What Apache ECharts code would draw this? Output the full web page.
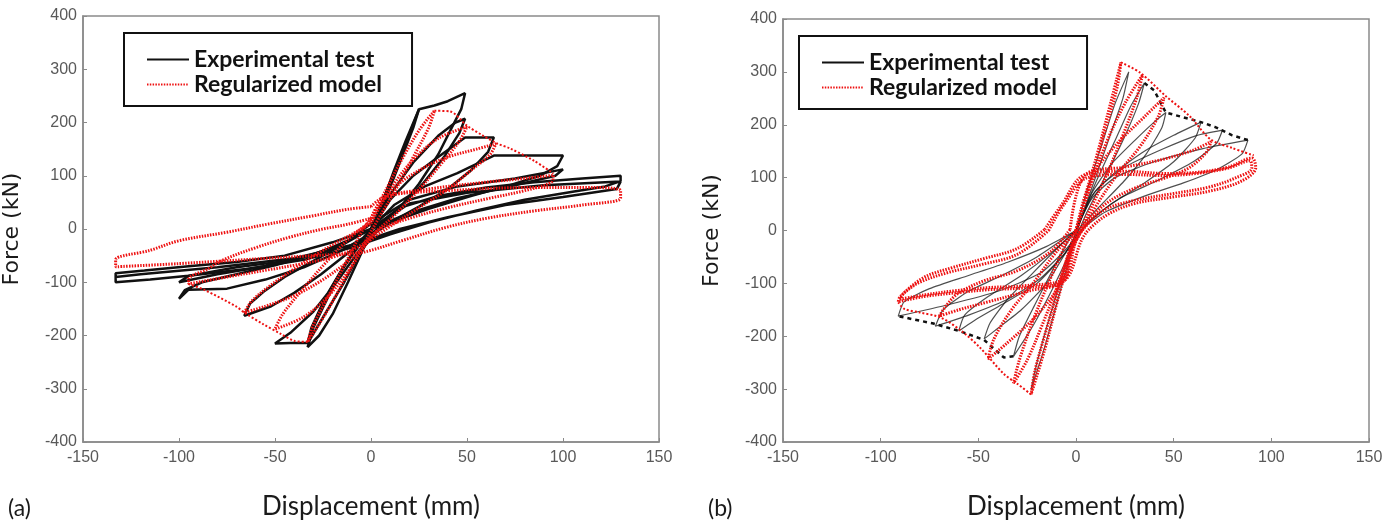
<!DOCTYPE html>
<html>
<head>
<meta charset="utf-8">
<script src="https://cdn.jsdelivr.net/npm/echarts@6/dist/echarts.min.js"></script>
<style>
    html, body { margin: 0; padding: 0; background: #fff; }
    #chart { width: 1396px; height: 525px; }
</style>
</head>
<body>
<div id="chart"></div>
<script>
// axis ranges (same for both panels)
const xRange = [-150, 150, 50]
const yRange = [-400, 400, 100]

// ---- panel (a): experimental loops, [displacement mm, force kN]
const expA_25 = [[0,0],[6,50],[12,110],[18,165],[25,225],[22,190],[15,125],[8,60],[2,10],[-5,-45],[-12,-100],[-20,-160],[-27,-200],[-33,-222],[-30,-185],[-22,-125],[-14,-70],[-6,-25],[0,0]]
const expA_49 = [[0,0],[8,70],[16,140],[25,225],[33,232],[40,240],[49,255],[47,225],[42,190],[35,140],[25,85],[14,35],[4,0],[-5,-40],[-14,-100],[-24,-160],[-33,-215],[-30,-180],[-23,-125],[-14,-70],[-6,-25],[0,0]]
const expA_50 = [[0,0],[10,65],[22,125],[35,175],[44,200],[49,207],[46,180],[38,135],[27,85],[15,40],[4,5],[-6,-40],[-18,-100],[-30,-155],[-42,-195],[-50,-215],[-42,-214],[-33,-214],[-31,-185],[-24,-130],[-15,-75],[-6,-30],[0,0]]
const expA_65 = [[0,0],[10,55],[22,100],[35,135],[49,172],[64,172],[61,145],[52,110],[40,75],[25,42],[10,12],[0,-12],[-12,-45],[-26,-85],[-40,-120],[-52,-145],[-66,-163],[-63,-140],[-56,-118],[-45,-90],[-30,-60],[-15,-30],[0,0]]
const expA_100 = [[0,0],[12,45],[28,80],[45,105],[64,138],[100,138],[97,118],[88,100],[72,82],[52,62],[30,38],[12,15],[0,-8],[-15,-40],[-35,-72],[-55,-95],[-75,-112],[-95,-114],[-100,-131],[-97,-115],[-88,-100],[-70,-85],[-50,-68],[-30,-48],[-12,-22],[0,0]]
const expA_130 = [[0,0],[15,40],[35,62],[60,78],[85,88],[110,95],[130,100],[130,90],[122,80],[105,70],[80,55],[55,35],[30,12],[10,-10],[-10,-35],[-35,-58],[-65,-75],[-95,-88],[-115,-95],[-133,-100],[-133,-83],[-118,-78],[-95,-70],[-70,-62],[-45,-50],[-20,-25],[0,0],[20,48],[50,68],[90,82],[130,89],[128,75],[100,60],[70,45],[40,22],[15,0],[-10,-30],[-40,-55],[-80,-72],[-120,-85],[-133,-90]]
const expA_mid = [[0,10],[20,55],[45,80],[75,95],[100,112],[96,100],[70,78],[45,58],[20,30],[0,0],[-25,-45],[-55,-70],[-80,-85],[-100,-100],[-95,-88],[-70,-72],[-40,-58],[-15,-30],[0,10]]

// ---- panel (a): regularized model loops
const modelA_33 = [[0,20],[8,75],[16,130],[25,185],[33,222],[30,190],[22,135],[13,75],[4,20],[-4,-30],[-13,-90],[-23,-155],[-33,-212],[-30,-180],[-22,-125],[-12,-55],[-4,0],[0,20]]
const modelA_50 = [[0,15],[10,75],[22,130],[35,170],[50,192],[46,165],[36,120],[24,70],[12,25],[0,-15],[-10,-70],[-22,-125],[-35,-165],[-50,-188],[-46,-160],[-36,-115],[-24,-65],[-12,-20],[0,15]]
const modelA_65 = [[0,10],[10,70],[25,110],[40,135],[55,150],[65,160],[62,140],[52,110],[40,75],[25,40],[10,5],[0,-20],[-10,-55],[-25,-95],[-40,-125],[-55,-145],[-66,-157],[-62,-135],[-52,-105],[-40,-75],[-25,-40],[-10,-10],[0,10]]
const modelA_95 = [[0,20],[7,58],[30,75],[60,88],[80,95],[95,101],[94,88],[80,72],[62,58],[40,40],[20,20],[5,0],[-5,-30],[-19,-52],[-40,-68],[-54,-77],[-75,-90],[-95,-103],[-95,-95],[-85,-75],[-77,-58],[-60,-35],[-42,-15],[-25,0],[-12,9],[0,20]]
const modelA_130 = [[0,42],[8,62],[40,72],[85,78],[115,78],[130,72],[130,58],[110,45],[85,34],[60,20],[39,3],[16,-22],[0,-40],[-7,-45],[-30,-50],[-54,-55],[-100,-65],[-133,-71],[-133,-58],[-115,-40],[-100,-22],[-75,-6],[-54,9],[-30,25],[-12,37],[0,42]]
const modelA_envPos = [[33,222],[41,221],[50,194],[58,176],[66,160],[72,152],[85,128],[95,104]]
const modelA_envNeg = [[-33,-212],[-40,-210],[-47,-197],[-56,-179],[-66,-157],[-70,-146],[-87,-114],[-95,-103]]

// ---- panel (b): experimental loops
const expB_27 = [[0,0],[6,80],[13,160],[20,240],[27,300],[24,250],[17,175],[9,90],[2,15],[-4,-60],[-10,-140],[-16,-220],[-23,-301],[-20,-250],[-14,-170],[-7,-85],[0,0]]
const expB_35 = [[0,0],[10,90],[20,170],[28,235],[35,279],[32,240],[24,170],[14,95],[5,30],[-3,-40],[-12,-110],[-22,-180],[-32,-238],[-29,-200],[-21,-140],[-12,-75],[-4,-20],[0,0]]
const expB_46 = [[0,0],[8,70],[18,125],[30,170],[40,205],[46,223],[44,195],[36,145],[25,95],[12,45],[2,5],[-5,-40],[-15,-100],[-28,-150],[-40,-185],[-47,-205],[-44,-175],[-35,-130],[-22,-80],[-10,-35],[0,0]]
const expB_64 = [[0,0],[8,65],[20,110],[35,150],[50,180],[64,205],[61,175],[50,130],[35,90],[18,50],[5,10],[-5,-40],[-18,-90],[-35,-130],[-55,-160],[-72,-181],[-68,-150],[-55,-115],[-38,-85],[-20,-50],[-6,-15],[0,0]]
const expB_75 = [[0,0],[10,75],[25,120],[45,155],[62,180],[75,190],[72,165],[60,130],[42,95],[22,60],[6,15],[-6,-45],[-20,-100],[-38,-140],[-52,-170],[-60,-190],[-57,-160],[-45,-125],[-28,-85],[-12,-40],[0,0]]
const expB_88 = [[0,0],[8,60],[20,100],[40,130],[65,155],[88,171],[85,145],[72,115],[55,90],[35,65],[15,35],[4,5],[-5,-35],[-18,-80],[-40,-115],[-65,-140],[-91,-162],[-88,-135],[-75,-110],[-55,-85],[-35,-60],[-15,-30],[0,0]]
const expB_envPos = [[35,279],[40,265],[46,223],[58,211],[64,205],[71,196],[80,180],[88,171]]
const expB_envNeg = [[-32,-238],[-37,-240],[-47,-207],[-59,-191],[-73,-176],[-91,-162]]

// ---- panel (b): regularized model loops
const modelB_23 = [[0,0],[6,80],[12,160],[18,245],[23,318],[21,270],[15,190],[8,100],[2,20],[-4,-60],[-10,-140],[-16,-225],[-23,-310],[-21,-265],[-15,-185],[-8,-95],[-2,-20],[0,0]]
const modelB_33 = [[0,0],[8,90],[16,170],[25,240],[34,294],[31,250],[24,180],[15,100],[6,30],[-2,-30],[-10,-110],[-18,-185],[-25,-245],[-32,-289],[-29,-245],[-22,-170],[-13,-90],[-5,-25],[0,0]]
const modelB_45 = [[0,0],[8,100],[20,160],[35,215],[45,251],[42,215],[33,160],[22,110],[10,45],[0,-20],[-8,-100],[-20,-160],[-35,-212],[-45,-243],[-42,-205],[-33,-150],[-22,-100],[-10,-40],[0,0]]
const modelB_70 = [[-3,2],[5,106],[25,120],[45,135],[60,152],[69,168],[67,149],[58,119],[46,100],[30,80],[15,50],[5,10],[-3,-40],[-6,-95],[-25,-115],[-45,-135],[-60,-150],[-70,-162],[-66,-140],[-60,-118],[-47,-95],[-30,-76],[-13,-40],[-3,2]]
const modelB_90 = [[-16,2],[-8,45],[5,106],[25,112],[45,108],[62,110],[78,120],[90,137],[92,119],[85,94],[69,75],[49,63],[30,51],[17,32],[8,7],[3,-17],[-6,-95],[-25,-108],[-45,-112],[-62,-118],[-78,-125],[-91,-135],[-90,-125],[-78,-89],[-64,-71],[-47,-53],[-30,-34],[-16,2]]
const modelB_90b = [[-14,0],[-6,50],[6,100],[25,106],[45,104],[62,108],[78,118],[89,132],[90,118],[82,100],[68,82],[50,70],[30,57],[15,40],[6,12],[0,-20],[-6,-90],[-25,-104],[-45,-108],[-62,-114],[-78,-122],[-90,-130],[-88,-118],[-80,-98],[-66,-80],[-48,-64],[-30,-45],[-14,0]]
const modelB_envPos = [[23,318],[33,298],[46,254],[58,217],[69,172],[80,156],[91,142]]
const modelB_envNeg = [[-23,-310],[-30,-290],[-37,-271],[-49,-222],[-58,-192],[-69,-165],[-80,-155],[-88,-148],[-91,-136]]

const EXP = 'Experimental test'
const MODEL = 'Regularized model'
const axisGray = '#8a8a8a'
const red = '#ee1111'

const chart = echarts.init(document.getElementById('chart'))

const line = (name, data, idx, lineStyle, smooth) => ({
    type: 'line',
    name,
    data,
    xAxisIndex: idx,
    yAxisIndex: idx,
    symbol: 'none',
    smooth: smooth,
    silent: true,
    itemStyle: { color: lineStyle.color },
    lineStyle,
})

const blackA = { color: '#111', width: 2.5 }
const blackB = { color: 'rgba(20,20,20,0.75)', width: 1.2 }
const blackEnv = { color: '#111', width: 2.5, type: [4, 4] }
const redBold = { color: red, width: 3, type: [1.5, 1.3] }
const redThin = { color: red, width: 2, type: [2, 2] }

const series = [
    ...[expA_25, expA_49, expA_50, expA_65, expA_100, expA_130, expA_mid].map(d => line(EXP, d, 0, blackA, false)),
    ...[expB_27, expB_35, expB_46, expB_64, expB_75, expB_88].map(d => line(EXP, d, 1, blackB, 0.2)),
    ...[expB_envPos, expB_envNeg].map(d => line(EXP, d, 1, blackEnv, false)),
    ...[modelA_33, modelA_50, modelA_65, modelA_95, modelA_130].map(d => line(MODEL, d, 0, redBold, 0.35)),
    ...[modelA_envPos, modelA_envNeg].map(d => line(MODEL, d, 0, redThin, 0.3)),
    ...[modelB_23, modelB_33, modelB_45, modelB_70, modelB_90, modelB_90b].map(d => line(MODEL, d, 1, redBold, 0.35)),
    ...[modelB_envPos, modelB_envNeg].map(d => line(MODEL, d, 1, redThin, 0.3)),
]

const makeX = (idx) => ({
    gridIndex: idx,
    type: 'value',
    min: xRange[0],
    max: xRange[1],
    interval: xRange[2],
    name: 'Displacement (mm)',
    nameLocation: 'middle',
    nameGap: 52,
    nameTextStyle: { fontFamily: 'Lato', fontSize: 26, color: '#1a1a1a' },
    axisLine: { show: true, onZero: false, lineStyle: { color: axisGray, width: 1.5 } },
    axisTick: { show: true, inside: true, length: 4, lineStyle: { color: axisGray } },
    axisLabel: { color: '#595959', fontSize: 16, fontFamily: 'Liberation Sans', margin: 8 },
    splitLine: { show: false },
})

const makeY = (idx) => ({
    gridIndex: idx,
    type: 'value',
    min: yRange[0],
    max: yRange[1],
    interval: yRange[2],
    name: 'Force (kN)',
    nameLocation: 'middle',
    nameGap: 60,
    nameTextStyle: { fontFamily: 'DejaVu Sans', fontSize: 22, color: '#1a1a1a' },
    axisLine: { show: true, onZero: false, lineStyle: { color: axisGray, width: 1.5 } },
    axisTick: { show: true, inside: true, length: 4, lineStyle: { color: axisGray } },
    axisLabel: { color: '#595959', fontSize: 16, fontFamily: 'Liberation Sans', margin: 6 },
    splitLine: { show: false },
})

const makeLegend = (left, top) => ({
    data: [EXP, MODEL],
    orient: 'vertical',
    left,
    top,
    padding: [15, 30, 10, 22],
    itemWidth: 42,
    itemHeight: 14,
    itemGap: 2,
    selectedMode: false,
    borderColor: '#111',
    borderWidth: 2,
    backgroundColor: '#fff',
    itemStyle: { opacity: 0 },
    textStyle: { fontFamily: 'Lato', fontWeight: 'bold', fontSize: 23, color: '#111' },
})

chart.setOption({
    animation: false,
    backgroundColor: '#fff',
    grid: [
        { left: 83, top: 16, width: 576, height: 438, show: true, borderColor: axisGray, borderWidth: 1.5 },
        { left: 783, top: 19, width: 586, height: 435, show: true, borderColor: axisGray, borderWidth: 1.5 },
    ],
    xAxis: [makeX(0), makeX(1)],
    yAxis: [makeY(0), makeY(1)],
    legend: [makeLegend(124, 33), makeLegend(799, 36)],
    graphic: [
        { type: 'text', left: 8, top: 497, style: { text: '(a)', font: '23px Lato', fill: '#1a1a1a' } },
        { type: 'text', left: 708, top: 497, style: { text: '(b)', font: '23px Lato', fill: '#1a1a1a' } },
    ],
    series,
})
</script>
</body>
</html>
